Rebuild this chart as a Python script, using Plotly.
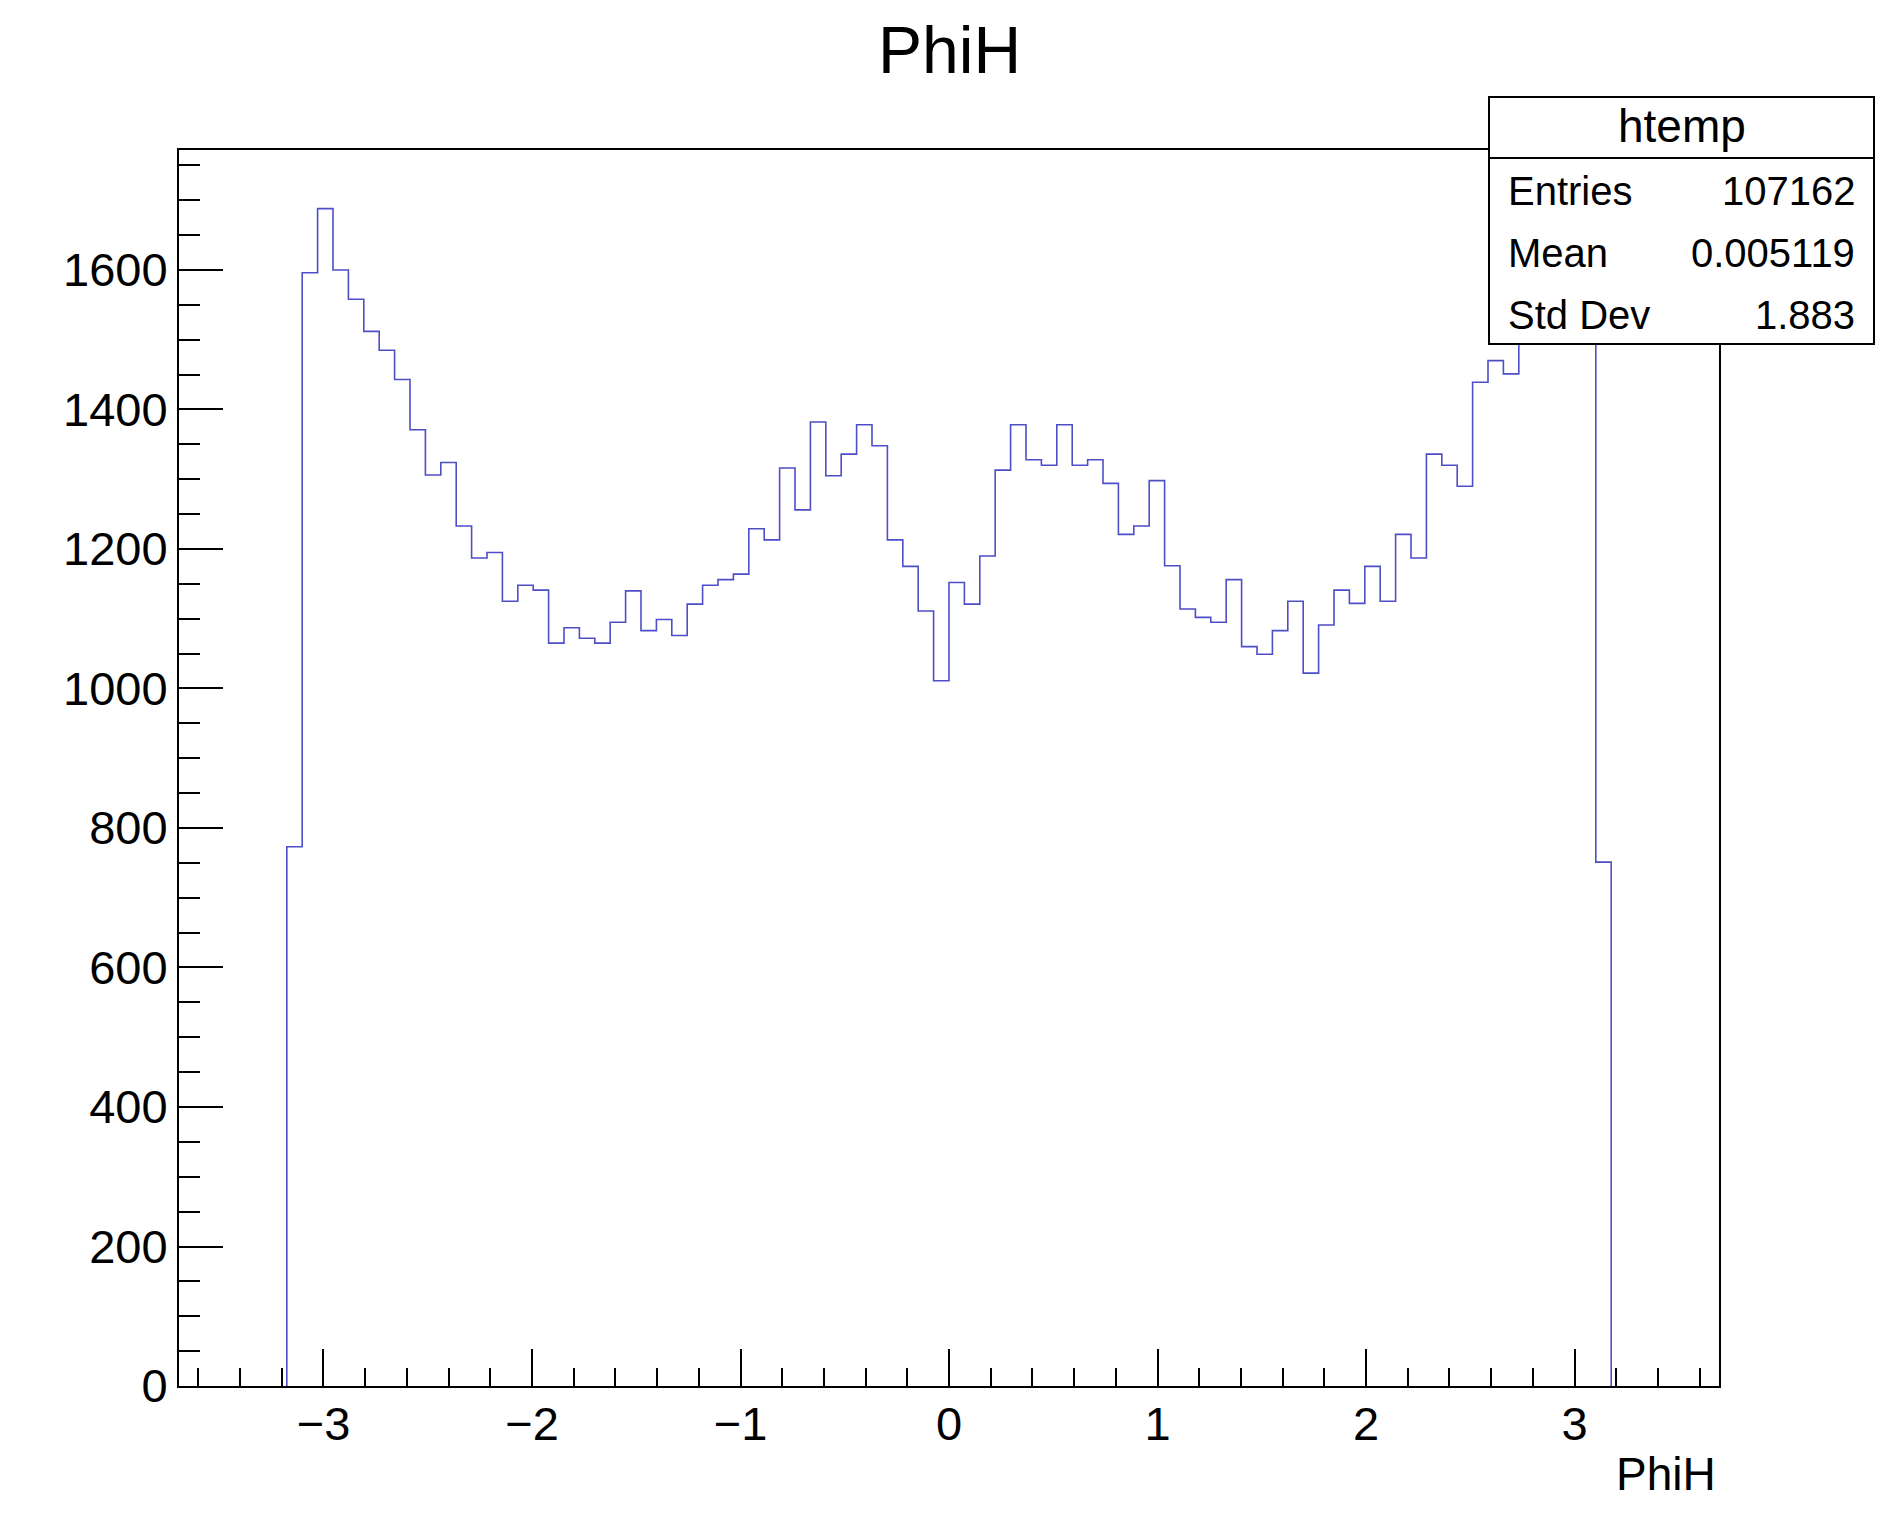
import numpy as np
import plotly.graph_objects as go

# ---------------- data ----------------
X_MIN, X_MAX = -3.693, 3.693
N_BINS = 100
FIRST_FILLED_BIN = 7
counts_filled = [
    773, 1596, 1688, 1600, 1558, 1512, 1485, 1443, 1371, 1306,
    1324, 1233, 1187, 1195, 1125, 1148, 1141, 1065, 1087, 1072,
    1065, 1095, 1140, 1083, 1099, 1076, 1121, 1148, 1156, 1164,
    1229, 1213, 1316, 1256, 1382, 1305, 1336, 1378, 1348, 1213,
    1175, 1111, 1011, 1152, 1121, 1190, 1313, 1378, 1328, 1320,
    1378, 1320, 1328, 1294, 1221, 1233, 1298, 1176, 1114, 1102,
    1095, 1156, 1060, 1049, 1083, 1125, 1022, 1091, 1141, 1122,
    1175, 1125, 1221, 1187, 1336, 1320, 1290, 1439, 1470, 1451,
    1520, 1545, 1580, 1620, 1593, 751,
]
x_tick_vals = [-3, -2, -1, 0, 1, 2, 3]
y_tick_vals = [0, 200, 400, 600, 800, 1000, 1200, 1400, 1600]
Y_MAX = 1772

title_text = "PhiH"
x_title = "PhiH"
stats_name = "htemp"
stats_labels = ["Entries", "Mean", "Std Dev"]
stats_values = ["107162", "0.005119", "1.883"]

# ---------------- build histogram outline ----------------
edges = np.linspace(X_MIN, X_MAX, N_BINS + 1)
n_f = len(counts_filled)
x_step = edges[FIRST_FILLED_BIN:FIRST_FILLED_BIN + n_f + 1]
vals = np.asarray(counts_filled, dtype=float)
# step outline: start at 0 on the left edge, end back at 0 on the right edge
x_line = np.concatenate([[x_step[0]], x_step, [x_step[-1]]])
y_line = np.concatenate([[0.0], vals, [vals[-1]], [0.0]])

FONT = "Liberation Sans, Arial, Helvetica, sans-serif"
W, H = 1895, 1514
L, R, T, B = 179, 176, 150, 128
pw, ph = W - L - R, H - T - B


def px_x(px):
    return (px - L) / pw


def px_y(py):
    return (H - B - py) / ph


fig = go.Figure()
fig.add_trace(go.Scatter(
    x=x_line, y=y_line, mode="lines", line_shape="hv",
    line=dict(color="rgb(78,78,200)", width=1.6),
    hoverinfo="skip", showlegend=False,
))

axis_common = dict(
    showgrid=False, zeroline=False, showline=True, linecolor="black",
    linewidth=2, mirror=True, ticks="inside", tickcolor="black",
    tickwidth=2, tickfont=dict(family=FONT, size=47, color="black"),
)

fig.update_xaxes(
    range=[X_MIN, X_MAX], tickvals=x_tick_vals, ticklen=37,
    ticklabelstandoff=-4,
    minor=dict(dtick=0.2, ticklen=18, ticks="inside", tickcolor="black", tickwidth=2),
    **axis_common,
)
fig.update_yaxes(
    range=[0, Y_MAX], tickvals=y_tick_vals, ticklen=44,
    ticklabelstandoff=0,
    minor=dict(dtick=50, ticklen=21, ticks="inside", tickcolor="black", tickwidth=2),
    **axis_common,
)

# stats box
bx0, bx1, by0, by1, bdiv = 1489, 1874, 97, 344, 158
fig.add_shape(type="rect", xref="paper", yref="paper",
              x0=px_x(bx0), x1=px_x(bx1), y0=px_y(by1), y1=px_y(by0),
              line=dict(color="black", width=2), fillcolor="white", layer="above")
fig.add_shape(type="line", xref="paper", yref="paper",
              x0=px_x(bx0), x1=px_x(bx1), y0=px_y(bdiv), y1=px_y(bdiv),
              line=dict(color="black", width=2), layer="above")

annotations = []
annotations.append(dict(text=title_text, xref="paper", yref="paper",
                        x=0.5, y=px_y(50), xanchor="center", yanchor="middle",
                        showarrow=False, font=dict(family=FONT, size=66, color="black")))
annotations.append(dict(text=x_title, xref="paper", yref="paper",
                        x=px_x(1718), y=px_y(1474), xanchor="right", yanchor="middle",
                        showarrow=False, font=dict(family=FONT, size=46, color="black")))
annotations.append(dict(text=stats_name, xref="paper", yref="paper",
                        x=px_x((bx0 + bx1) / 2), y=px_y(126), xanchor="center", yanchor="middle",
                        showarrow=False, font=dict(family=FONT, size=46, color="black")))
row_y = [191, 253, 315]
for lab, val, yy in zip(stats_labels, stats_values, row_y):
    annotations.append(dict(text=lab, xref="paper", yref="paper",
                            x=px_x(1506), y=px_y(yy), xanchor="left", yanchor="middle",
                            showarrow=False, font=dict(family=FONT, size=40, color="black")))
    annotations.append(dict(text=val, xref="paper", yref="paper",
                            x=px_x(1857), y=px_y(yy), xanchor="right", yanchor="middle",
                            showarrow=False, font=dict(family=FONT, size=40, color="black")))

fig.update_layout(
    width=W, height=H,
    margin=dict(l=L, r=R, t=T, b=B, pad=0),
    paper_bgcolor="white", plot_bgcolor="white",
    annotations=annotations,
    showlegend=False,
)

fig.write_html("out.html")
